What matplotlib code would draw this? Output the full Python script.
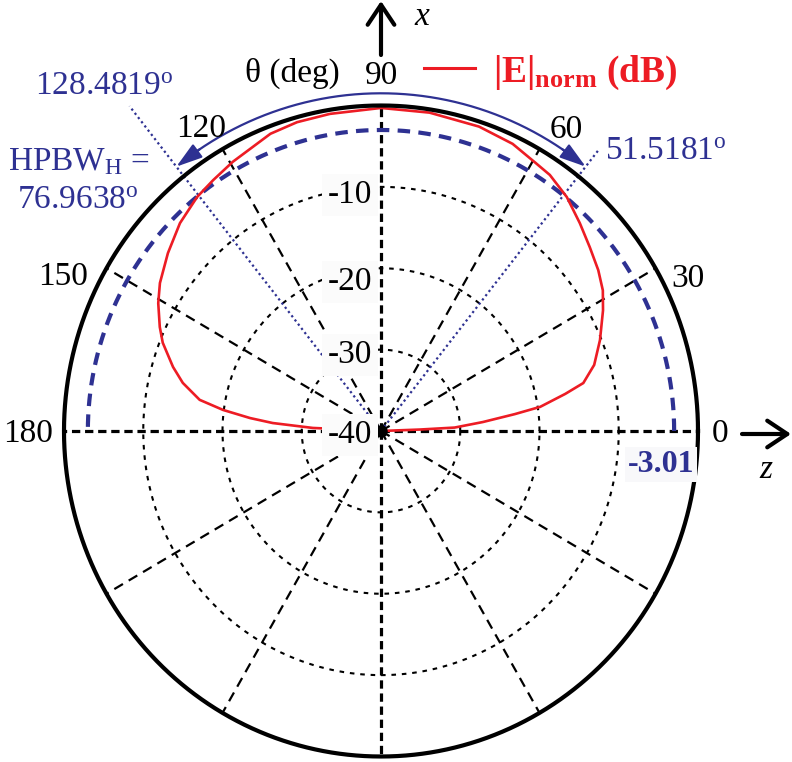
import numpy as np
import matplotlib.pyplot as plt
from matplotlib.lines import Line2D
from matplotlib.patches import FancyArrowPatch

plt.rcParams['font.family'] = 'Liberation Serif'
plt.rcParams['mathtext.fontset'] = 'custom'
plt.rcParams['mathtext.rm'] = 'Liberation Serif'
plt.rcParams['mathtext.it'] = 'Liberation Serif:italic'
plt.rcParams['mathtext.bf'] = 'Liberation Serif:bold'

# normalized field pattern, theta in degrees, |E| in dB
theta_deg = [0, 2.1, 2.6, 4.9, 7.0, 8.4, 11.1, 13.0, 16.8, 22.0, 27.9, 31.7,
             35.8, 40.6, 45.5, 50.8, 55.9, 59.5, 64.8, 71.7, 81.1, 90.0,
             99.4, 105.6, 110.9, 119.5, 124.5, 128.9, 134.8, 140.9, 146.9, 150.8,
             155.4, 158.5, 163.3, 166.7, 170.5, 172.6, 174.5, 175.9, 177.5, 180.0]
e_db = [-40, -35.1, -30.7, -27.1, -23.0, -19.7, -16.3, -13.8, -11.9, -10.2, -8.3, -7.1,
        -6.2, -5.3, -4.2, -2.9, -2.0, -1.7, -1.0, -0.6, -0.4, -0.3,
        -0.5, -0.6, -0.9, -2.0, -2.6, -3.05, -4.0, -5.35, -6.7, -7.8,
        -9.3, -10.4, -12.6, -14.3, -16.8, -19.9, -23.4, -26.3, -31.4, -40]

r_min, r_max = -40, 0
ring_levels = [-10, -20, -30]
ring_labels = ['-10', '-20', '-30', '-40']
spoke_angles = np.arange(0, 360, 30)
angle_labels = ['0', '30', '60', '90', '120', '150', '180']

half_power_db = -3.01
hpbw_right = 51.5181
hpbw_left = 128.4819
hpbw = hpbw_left - hpbw_right

RED = '#ED1C24'
BLUE = '#2E3192'

W, H = 792, 762
fig = plt.figure(figsize=(W / 100, H / 100), dpi=100)


def fig_xy(px, py):
    return px / W, 1 - py / H


ax = fig.add_axes([64 / W, (H - 756.5) / H, 634 / W, 651 / H], projection='polar')
ax.set_aspect('auto')
ax.set_rlim(r_min, r_max)
ax.grid(False)
ax.set_xticks([])
ax.set_yticks([])
ax.spines['polar'].set_visible(False)
ax.patch.set_visible(False)

full = np.linspace(0, 2 * np.pi, 721)

# dotted dB rings
for lev in ring_levels:
    ax.plot(full, np.full_like(full, lev), color='k', lw=1.5,
            linestyle=(0, (2.2, 2.8)), zorder=1)

# angle spokes
for a in spoke_angles:
    t = np.radians(a)
    if a % 90 == 0:
        ax.plot([t, t], [r_min, r_max], color='k', lw=2.3,
                linestyle=(0, (2.6, 1.5)), zorder=1)
    else:
        ax.plot([t, t], [r_min, r_max], color='k', lw=1.6,
                linestyle=(0, (4.5, 3)), zorder=1)

# outer circle
ax.plot(full, np.full_like(full, r_max), color='k', lw=3, zorder=3, clip_on=False)

# half-power level
half = np.linspace(0, np.pi, 361)
ax.plot(half, np.full_like(half, half_power_db), color=BLUE, lw=3,
        linestyle=(0, (3, 2)), zorder=2)

# half-power directions
ax.plot([np.radians(hpbw_right)] * 2, [r_min, 4], color=BLUE, lw=1.6,
        linestyle=(0, (1, 1.4)), zorder=2, clip_on=False)
ax.plot([np.radians(hpbw_left)] * 2, [r_min, 11], color=BLUE, lw=1.6,
        linestyle=(0, (1, 1.4)), zorder=2, clip_on=False)

# beamwidth arc with arrowheads
arc_r = 1.5
arc = np.radians(np.linspace(hpbw_right + 2, hpbw_left - 2, 200))
ax.plot(arc, np.full_like(arc, arc_r), color=BLUE, lw=1.6, clip_on=False, zorder=3)
for tip, back in [(hpbw_right, hpbw_right + 5), (hpbw_left, hpbw_left - 5)]:
    ax.annotate('', xy=(np.radians(tip), arc_r), xytext=(np.radians(back), arc_r),
                arrowprops=dict(arrowstyle='-|>,head_length=0.8,head_width=0.25',
                                color=BLUE, lw=1.6, shrinkA=0, shrinkB=0,
                                mutation_scale=20),
                annotation_clip=False)

# pattern
ax.plot(np.radians(theta_deg), e_db, color=RED, lw=1.9, zorder=2)

# origin marker
ax.plot(0, r_min, 'o', color='k', ms=8, zorder=5)

# angle labels
angle_pos = [(720, 442), (688, 287), (566, 138), (382, 84), (201, 137), (63, 285), (28, 442)]
for lab, (px, py) in zip(angle_labels, angle_pos):
    fig.text(*fig_xy(px, py), lab, ha='center', va='baseline', fontsize=24)
fig.text(*fig_xy(245, 82), 'θ (deg)', ha='left', va='baseline', fontsize=24)

# dB labels along the 90 deg spoke
for lab, py in zip(ring_labels, [203, 290, 363, 443]):
    fig.text(*fig_xy(372, py), lab, ha='right', va='baseline', fontsize=24,
             bbox=dict(facecolor='#fbfbfb', edgecolor='none', pad=4))

fig.text(*fig_xy(661, 472), f'{half_power_db:.2f}', ha='center', va='baseline',
         fontsize=23, fontweight='bold', color=BLUE,
         bbox=dict(facecolor='#f8f8fa', edgecolor='none', pad=2))

# beamwidth annotations
fig.text(*fig_xy(35, 95), f'{hpbw_left:.4f}' + r'$^{\rm o}$', ha='left', va='baseline',
         fontsize=24, color=BLUE)
fig.text(*fig_xy(605, 160), f'{hpbw_right:.4f}' + r'$^{\rm o}$', ha='left', va='baseline',
         fontsize=24, color=BLUE)
fig.text(*fig_xy(8, 170), r'HPBW$_{\rm H}$ =', ha='left', va='baseline',
         fontsize=24, color=BLUE)
fig.text(*fig_xy(17, 209), f'{hpbw:.4f}' + r'$^{\rm o}$', ha='left', va='baseline',
         fontsize=24, color=BLUE)

# coordinate axes arrows
for start, end in [((381, 55), (381, 1)), ((742, 434), (791, 434))]:
    fig.add_artist(FancyArrowPatch(fig_xy(*start), fig_xy(*end), transform=fig.transFigure,
                                   arrowstyle='->,head_length=0.6,head_width=0.4',
                                   mutation_scale=24, lw=3, color='k',
                                   shrinkA=0, shrinkB=0))
fig.text(*fig_xy(422, 25), 'x', ha='center', va='baseline', fontsize=24, style='italic')
fig.text(*fig_xy(766, 478), 'z', ha='center', va='baseline', fontsize=24, style='italic')

# legend entry
fig.add_artist(Line2D([424 / W, 475 / W], [1 - 68 / H] * 2, transform=fig.transFigure,
                      color=RED, lw=2.2))
fig.text(*fig_xy(493, 82), r'$\mathbf{|E|_{norm}}$ (dB)', ha='left', va='baseline',
         fontsize=27, fontweight='bold', color=RED)

fig.savefig('out.png', dpi=100)
